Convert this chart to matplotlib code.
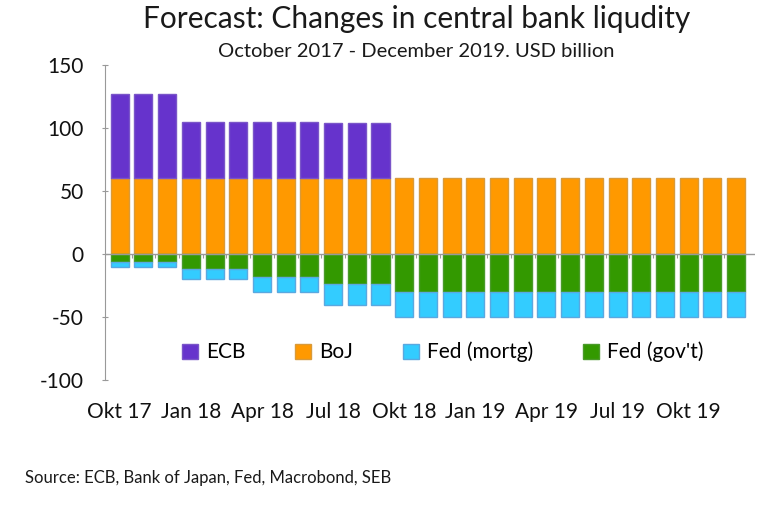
import numpy as np
import matplotlib
matplotlib.use("Agg")
import matplotlib.pyplot as plt

plt.rcParams['font.family'] = ['Lato', 'DejaVu Sans']
plt.rcParams['axes.unicode_minus'] = False

# months Oct 2017 - Dec 2019
months = ['Okt 17', 'Nov 17', 'Dec 17',
          'Jan 18', 'Feb 18', 'Mar 18', 'Apr 18', 'Maj 18', 'Jun 18',
          'Jul 18', 'Aug 18', 'Sep 18', 'Okt 18', 'Nov 18', 'Dec 18',
          'Jan 19', 'Feb 19', 'Mar 19', 'Apr 19', 'Maj 19', 'Jun 19',
          'Jul 19', 'Aug 19', 'Sep 19', 'Okt 19', 'Nov 19', 'Dec 19']
boj = [60] * 27
ecb = [67, 67, 67, 45, 45, 45, 45, 45, 45, 44, 44, 44] + [0] * 15
fed_gov = [-6, -6, -6, -12, -12, -12, -18, -18, -18, -24, -24, -24] + [-30] * 15
fed_mortg = [-4, -4, -4, -8, -8, -8, -12, -12, -12, -16, -16, -16] + [-20] * 15

x = np.arange(len(months))
w = 0.76
ecb_plot = np.where(np.array(ecb) > 0, ecb, np.nan)

fig = plt.figure(figsize=(7.65, 5.11), dpi=100)
ax = fig.add_axes([0.137, 0.256, 0.850, 0.617])

c_ecb, c_boj, c_mortg, c_gov = '#6633cc', '#ff9900', '#33ccff', '#339900'
b1 = ax.bar(x, boj, w, color=c_boj, edgecolor='#d99a3a', lw=1)
b2 = ax.bar(x, ecb_plot, w, bottom=boj, color=c_ecb, edgecolor='#7a55c8', lw=1)
b4 = ax.bar(x, fed_gov, w, color=c_gov, edgecolor='#4a9a2a', lw=1)
b3 = ax.bar(x, fed_mortg, w, bottom=fed_gov, color=c_mortg, edgecolor='#5aa8e0', lw=1)

ax.axhline(0, color='#999999', lw=1)
ax.vlines(x[:-1] + 0.5, -3, 0, color='#999999', lw=0.8)

ax.set_xlim(-0.63, 26.8)
ax.set_ylim(-100, 150)
ax.set_yticks([-100, -50, 0, 50, 100, 150])
ax.set_xticks(x[::3])
ax.set_xticklabels(months[::3])
ax.tick_params(axis='x', length=0, pad=16, labelsize=15, labelcolor='#111111')
ax.tick_params(axis='y', length=4, color='#999999', direction='inout', labelsize=15,
               pad=13, labelcolor='#111111')
for s in ['top', 'right', 'bottom']:
    ax.spines[s].set_visible(False)
ax.spines['left'].set_color('#999999')

ax.legend([b2, b1, b3, b4], ['ECB', 'BoJ', 'Fed (mortg)', 'Fed (gov\'t)'],
          loc='center', bbox_to_anchor=(0.52, 0.089), ncol=4, frameon=False,
          fontsize=15, handlelength=0.75, handleheight=0.75, columnspacing=2.4,
          handletextpad=0.4)

fig.text(0.544, 0.963, 'Forecast: Changes in central bank liqudity', ha='center',
         va='center', fontsize=21.5, color='#1a1a1a')
fig.text(0.544, 0.9, 'October 2017 - December 2019. USD billion', ha='center',
         va='center', fontsize=14.5, color='#1a1a1a')
fig.text(0.033, 0.065, 'Source: ECB, Bank of Japan, Fed, Macrobond, SEB', ha='left',
         va='center', fontsize=12, color='#1a1a1a')

fig.savefig('out.png', dpi=100)
